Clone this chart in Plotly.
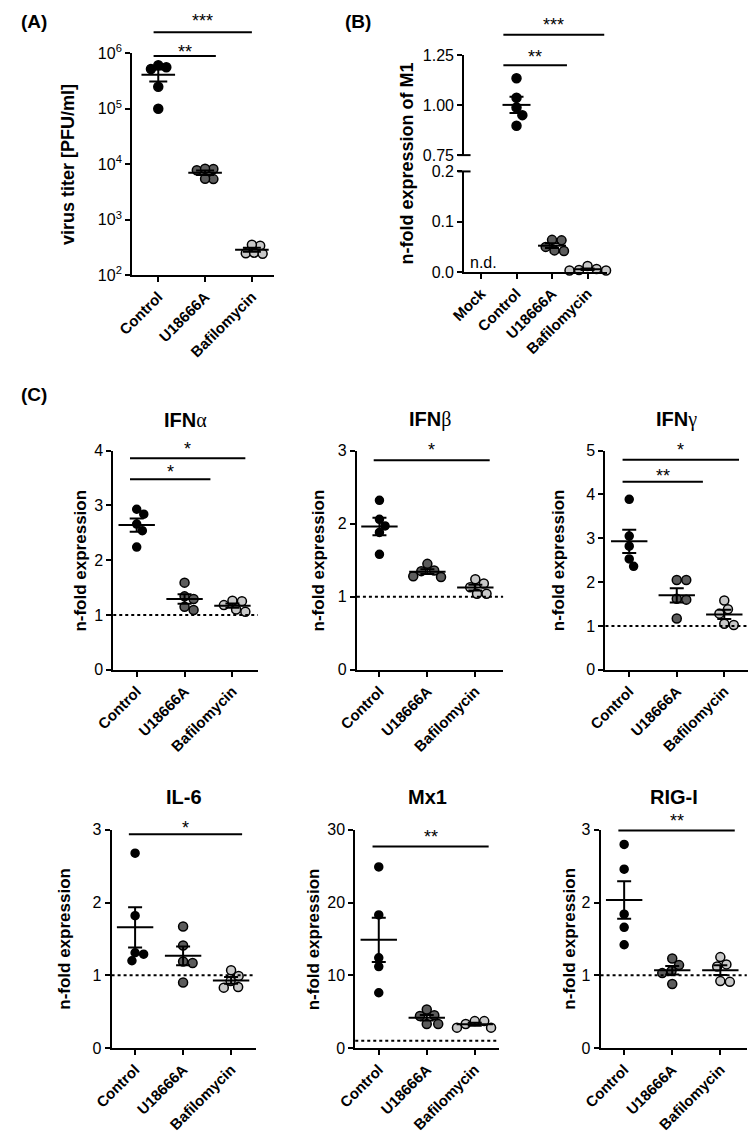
import numpy as np
import plotly.graph_objects as go

W, H = 750, 1141
FONT = "Liberation Sans, Arial, Helvetica, sans-serif"

groups3 = ["Control", "U18666A", "Bafilomycin"]
groups4 = ["Mock", "Control", "U18666A", "Bafilomycin"]

# (A) virus titer [PFU/ml]
titer_control = [5.6e5, 6.1e5, 5.2e5, 2.5e5, 1.0e5]
titer_u18666a = [8.2e3, 7.8e3, 8.3e3, 5.4e3, 5.5e3]
titer_bafilomycin = [340, 355, 250, 255, 245]

# (B) n-fold expression of M1 (Mock not detected)
m1_control = [1.135, 1.037, 0.988, 0.950, 0.897]
m1_u18666a = [0.064, 0.063, 0.050, 0.043, 0.042]
m1_bafilomycin = [0.012, 0.006, 0.004, 0.003, 0.003]

# (C) n-fold expression
ifna_control = [2.93, 2.84, 2.66, 2.54, 2.24]
ifna_u18666a = [1.59, 1.34, 1.29, 1.15, 1.09]
ifna_bafilomycin = [1.26, 1.25, 1.18, 1.10, 1.06]

ifnb_control = [2.32, 2.06, 1.97, 1.88, 1.58]
ifnb_u18666a = [1.45, 1.36, 1.35, 1.28, 1.27]
ifnb_bafilomycin = [1.24, 1.18, 1.13, 1.04, 1.04]

ifng_control = [3.89, 3.05, 2.82, 2.53, 2.36]
ifng_u18666a = [2.05, 2.05, 1.62, 1.60, 1.17]
ifng_bafilomycin = [1.58, 1.38, 1.28, 1.05, 1.02]

il6_control = [2.68, 1.82, 1.31, 1.29, 1.20]
il6_u18666a = [1.67, 1.41, 1.19, 1.17, 0.90]
il6_bafilomycin = [1.07, 0.99, 0.92, 0.84, 0.83]

mx1_control = [24.9, 18.3, 12.4, 11.2, 7.6]
mx1_u18666a = [5.3, 4.5, 4.4, 3.3, 3.3]
mx1_bafilomycin = [3.7, 3.7, 3.3, 2.8, 2.8]

rigi_control = [2.80, 2.46, 1.84, 1.66, 1.42]
rigi_u18666a = [1.23, 1.14, 1.06, 1.03, 0.88]
rigi_bafilomycin = [1.25, 1.15, 1.12, 0.92, 0.91]

# significance bars: (from, to, line level, label level, text) in category / data units
sig_a = [(-0.10, 2.00, 2.4e6, 4.6e6, "***"), (-0.10, 1.23, 8.9e5, 1.3e6, "**")]
sig_b = [(0.63, 3.47, 1.352, 1.425, "***"), (0.63, 2.42, 1.20, 1.266, "**")]
sig_ifna = [(-0.14, 2.27, 3.86, 4.12, "*"), (-0.14, 1.54, 3.48, 3.70, "*")]
sig_ifnb = [(-0.12, 2.30, 2.87, 3.08, "*")]
sig_ifng = [(-0.14, 2.31, 4.79, 5.13, "*"), (-0.14, 1.55, 4.29, 4.54, "**")]
sig_il6 = [(-0.13, 2.23, 2.94, 3.09, "*")]
sig_mx1 = [(-0.13, 2.29, 27.7, 29.7, "**")]
sig_rigi = [(-0.12, 2.30, 2.99, 3.19, "**")]

COLORS = ["#000000", "#5c5c5c", "#c8c8c8"]

fig = go.Figure()
shapes, annos = [], []


def dom(x0, x1, y0, y1):
    return [x0 / W, x1 / W], [1 - y1 / H, 1 - y0 / H]


def swarm(vals, to_px, d):
    order = sorted(range(len(vals)), key=lambda i: -vals[i])
    placed, offs = [], [0.0] * len(vals)
    for i in order:
        py = to_px(vals[i])
        best = None
        for step in range(0, 400):
            for sgn in ([1, -1] if step else [1]):
                dx = sgn * step * 0.25
                if all((dx - a) ** 2 + (py - b) ** 2 >= d * d for a, b in placed):
                    best = dx
                    break
            if best is not None:
                break
        placed.append((best, py))
        offs[i] = best
    return offs


def axis_common():
    return dict(showline=True, linewidth=2, linecolor="black", ticks="outside",
                ticklen=5, tickwidth=2, tickcolor="black", showgrid=False,
                zeroline=False, fixedrange=True)


def add_group(n, pos, vals, color, size, box, yrange, xrange, log=False,
              mean_size=26, cap=7, overlap=0.92):
    xa = "x" if n == 1 else f"x{n}"
    ya = "y" if n == 1 else f"y{n}"
    x0, x1, y0, y1 = box
    hpx = y1 - y0
    wpx = x1 - x0
    px_per_x = wpx / (xrange[1] - xrange[0])
    if log:
        to_px = lambda v: (np.log10(v) - yrange[0]) / (yrange[1] - yrange[0]) * hpx
    else:
        to_px = lambda v: (v - yrange[0]) / (yrange[1] - yrange[0]) * hpx
    offs = swarm(vals, to_px, (size + 1.5) * overlap)
    xs = [pos + o / px_per_x for o in offs]
    fig.add_trace(go.Scatter(
        x=xs, y=vals, mode="markers", xaxis=xa, yaxis=ya, showlegend=False,
        hoverinfo="skip", cliponaxis=False,
        marker=dict(color=color, size=size, line=dict(color="black", width=1.5))))
    m = float(np.mean(vals))
    s = float(np.std(vals, ddof=1) / np.sqrt(len(vals)))
    fig.add_trace(go.Scatter(
        x=[pos], y=[m], mode="markers", xaxis=xa, yaxis=ya, showlegend=False,
        hoverinfo="skip", cliponaxis=False,
        marker=dict(symbol="line-ew", size=mean_size, color="black",
                    line=dict(color="black", width=2)),
        error_y=dict(type="data", array=[s], color="black", thickness=2, width=cap)))


def add_sig(n, sigs, yrange, log=False, size=18):
    xa = "x" if n == 1 else f"x{n}"
    ya = "y" if n == 1 else f"y{n}"
    for a, b, ly, ty, txt in sigs:
        if log:
            fl = (np.log10(ly) - yrange[0]) / (yrange[1] - yrange[0])
            ft = (np.log10(ty) - yrange[0]) / (yrange[1] - yrange[0])
        else:
            fl = (ly - yrange[0]) / (yrange[1] - yrange[0])
            ft = (ty - yrange[0]) / (yrange[1] - yrange[0])
        shapes.append(dict(type="line", xref=xa, yref=f"{ya} domain", x0=a, x1=b,
                           y0=fl, y1=fl, line=dict(color="black", width=2)))
        annos.append(dict(text=txt, xref=xa, yref=f"{ya} domain", x=(a + b) / 2,
                          y=ft, yanchor="middle", xanchor="center", showarrow=False,
                          yshift=-5, font=dict(family=FONT, size=size, color="black")))


def ytitle(n, text, xpx, size=17):
    ya = "y" if n == 1 else f"y{n}"
    annos.append(dict(text=f"<b>{text}</b>", xref="paper", yref=f"{ya} domain",
                      x=xpx / W, y=0.5, textangle=-90, showarrow=False,
                      xanchor="center", yanchor="middle",
                      font=dict(family=FONT, size=size, color="black")))


xtickfont = dict(family=FONT, size=15, color="black", weight="bold")
ytickfont = dict(family=FONT, size=16, color="black")

# ---------------- (A) ----------------
boxA = (116, 262, 43, 269)
yrA = [2, 6]
xrA = [-0.56, 2.48]
xd, yd = dom(*boxA)
fig.update_layout(
    xaxis=dict(domain=xd, range=xrA, tickvals=[0, 1, 2], ticktext=groups3,
               tickangle=-45, tickfont=xtickfont, anchor="y", **axis_common()),
    yaxis=dict(domain=yd, type="log", range=yrA,
               tickvals=[1e2, 1e3, 1e4, 1e5, 1e6],
               ticktext=[f"10<sup>{k}</sup>" for k in range(2, 7)],
               tickfont=ytickfont, anchor="x", **axis_common()))
for g, vals in enumerate([titer_control, titer_u18666a, titer_bafilomycin]):
    add_group(1, g, vals, COLORS[g], 9, boxA, yrA, xrA, log=True, mean_size=24, cap=9,
              overlap=0.8)
add_sig(1, sig_a, yrA, log=True)
ytitle(1, "virus titer [PFU/ml]", 51, size=18)

# ---------------- (B) broken axis ----------------
xrB = [-0.475, 3.54]
boxBu = (456.7, 603, 45, 146.7)
boxBl = (456.7, 603, 163.3, 265.7)
yrBu = [0.75, 1.25]
yrBl = [0, 0.2]
xdu, ydu = dom(*boxBu)
xdl, ydl = dom(*boxBl)
fig.update_layout(
    xaxis2=dict(domain=xdu, range=xrB, visible=False, anchor="y2", fixedrange=True),
    yaxis2=dict(domain=ydu, range=yrBu, tickvals=[0.75, 1.0, 1.25],
                ticktext=["0.75", "1.00", "1.25"], tickfont=ytickfont, anchor="x2",
                **axis_common()),
    xaxis3=dict(domain=xdl, range=xrB, tickvals=[0, 1, 2, 3], ticktext=groups4,
                tickangle=-45, tickfont=xtickfont, anchor="y3", **axis_common()),
    yaxis3=dict(domain=ydl, range=yrBl, tickvals=[0, 0.1, 0.2],
                ticktext=["0.0", "0.1", "0.2"], tickfont=ytickfont, anchor="x3",
                **axis_common()))
add_group(2, 1, m1_control, COLORS[0], 9, boxBu, yrBu, xrB, mean_size=20, cap=7)
add_group(3, 2, m1_u18666a, COLORS[1], 9, boxBl, yrBl, xrB, mean_size=20, cap=7)
add_group(3, 3, m1_bafilomycin, COLORS[2], 9, boxBl, yrBl, xrB, mean_size=20, cap=7)
add_sig(2, sig_b, yrBu)
ytitle(2, "n-fold expression of M1", 398, size=18)
annos[-1].update(yref="paper", y=1 - ((45 + 265.7) / 2) / H)
shapes.append(dict(type="line", xref="x2 domain", yref="y2 domain", x0=-0.045, x1=0.045,
                   y0=0, y1=0, line=dict(color="black", width=2)))
shapes.append(dict(type="line", xref="x3 domain", yref="y3 domain", x0=-0.045, x1=0.045,
                   y0=1, y1=1, line=dict(color="black", width=2)))
annos.append(dict(text="n.d.", xref="x3", yref="y3", x=0.07, y=0.018, showarrow=False,
                  xanchor="center", yanchor="middle",
                  font=dict(family=FONT, size=16, color="black")))

# ---------------- (C) ----------------
panelsC = [
    (4, "IFN", "α", (96.7, 245, 447.5, 670.5), [0, 4], [-0.49, 2.53], [0, 1, 2, 3, 4],
     [ifna_control, ifna_u18666a, ifna_bafilomycin], sig_ifna, 63),
    (5, "IFN", "β", (346.7, 496.7, 447.5, 670.5), [0, 3], [-0.47, 2.58], [0, 1, 2, 3],
     [ifnb_control, ifnb_u18666a, ifnb_bafilomycin], sig_ifnb, 307),
    (6, "IFN", "γ", (601.7, 748, 447.5, 670.5), [0, 5], [-0.5, 2.5], [0, 1, 2, 3, 4, 5],
     [ifng_control, ifng_u18666a, ifng_bafilomycin], sig_ifng, 553),
    (7, "IL-6", "", (95, 242.7, 833.5, 1055.5), [0, 3], [-0.49, 2.51], [0, 1, 2, 3],
     [il6_control, il6_u18666a, il6_bafilomycin], sig_il6, 47),
    (8, "Mx1", "", (345, 492.7, 833.5, 1055.5), [0, 30], [-0.49, 2.51], [0, 10, 20, 30],
     [mx1_control, mx1_u18666a, mx1_bafilomycin], sig_mx1, 303),
    (9, "RIG-I", "", (596.7, 746.7, 833.5, 1055.5), [0, 3], [-0.49, 2.55], [0, 1, 2, 3],
     [rigi_control, rigi_u18666a, rigi_bafilomycin], sig_rigi, 565),
]

for n, tname, greek, box, yr, xr, yticks, data, sigs, ytx in panelsC:
    xd, yd = dom(*box)
    fig.layout[f"xaxis{n}"] = dict(domain=xd, range=xr, tickvals=[0, 1, 2],
                                   ticktext=groups3, tickangle=-45, tickfont=xtickfont,
                                   anchor=f"y{n}", **axis_common())
    fig.layout[f"yaxis{n}"] = dict(domain=yd, range=yr, tickvals=yticks,
                                   tickfont=ytickfont, anchor=f"x{n}", **axis_common())
    shapes.append(dict(type="line", xref=f"x{n} domain", yref=f"y{n}", x0=0, x1=1,
                       y0=1, y1=1, line=dict(color="black", width=2, dash="dot")))
    for g, vals in enumerate(data):
        add_group(n, g, vals, COLORS[g], 8 if g == 0 else 9, box, yr, xr,
                  mean_size=26, cap=7)
    add_sig(n, sigs, yr)
    ytitle(n, "n-fold expression", ytx, size=17)
    title = f"<b>{tname}</b>"
    if greek:
        title += f"<span style='font-family:Liberation Serif, serif'>{greek}</span>"
    annos.append(dict(text=title, xref=f"x{n} domain", yref=f"y{n} domain", x=0.5, y=1,
                      yshift=31 if n <= 6 else 33, xanchor="center", yanchor="middle",
                      showarrow=False, font=dict(family=FONT, size=20, color="black")))

# panel letters
for lab, xpx, ypx in [("(A)", 0, 11), ("(B)", 332, 11), ("(C)", 0, 390)]:
    annos.append(dict(text=f"<b>{lab}</b>", xref="paper", yref="paper", x=xpx / W,
                      y=1 - ypx / H, xanchor="left", yanchor="middle", showarrow=False,
                      font=dict(family=FONT, size=19, color="black")))

fig.update_layout(width=W, height=H, margin=dict(l=0, r=0, t=0, b=0),
                  paper_bgcolor="white", plot_bgcolor="white", showlegend=False,
                  shapes=shapes, annotations=annos, hovermode=False)

fig.write_html("out.html", config={"displayModeBar": False, "staticPlot": True},
               post_script="document.body.style.margin='0px';")
